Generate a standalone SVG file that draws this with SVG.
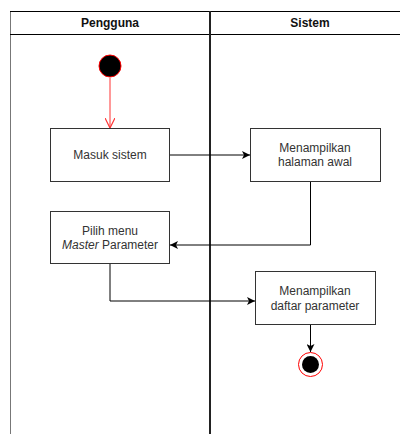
<svg xmlns="http://www.w3.org/2000/svg" width="400" height="434" viewBox="0 0 400 434">
  <style>
    .lane { fill: none; stroke: #000; stroke-width: 1; }
    .hdr { font-family: "Liberation Sans", Arial, sans-serif; font-size: 12px; font-weight: bold; fill: #111; text-anchor: middle; }
    .box { fill: #fff; stroke: #333; stroke-width: 1; }
    .lbl { font-family: "Liberation Sans", Arial, sans-serif; font-size: 12px; fill: #333; text-anchor: middle; }
    .edge { fill: none; stroke: #000; stroke-width: 1; }
  </style>
  <defs>
    <marker id="arrow" viewBox="0 0 10 10" refX="10" refY="5" markerWidth="8" markerHeight="8" markerUnits="userSpaceOnUse" orient="auto">
      <path d="M0,0 L10,5 L0,10 L2.5,5 Z" fill="#000"/>
    </marker>
    <marker id="open" viewBox="0 0 10 10" refX="10" refY="5" markerWidth="10" markerHeight="10" markerUnits="userSpaceOnUse" orient="auto">
      <path d="M0,0 L10,5 L0,10" fill="none" stroke="#f33" stroke-width="1.2"/>
    </marker>
  </defs>

  <!-- swimlane frame -->
  <g id="lanes">
    <line x1="10.5" y1="11" x2="10.5" y2="434" stroke="#777" stroke-width="1"/>
    <line x1="10" y1="11.5" x2="400" y2="11.5" class="lane"/>
    <line x1="10" y1="34.5" x2="400" y2="34.5" class="lane"/>
    <line x1="210" y1="11" x2="210" y2="434" stroke="#222" stroke-width="2"/>
    <text x="110" y="27" class="hdr">Pengguna</text>
    <text x="310" y="27" class="hdr">Sistem</text>
  </g>

  <!-- connectors -->
  <g id="connectors">
    <line x1="110" y1="78" x2="110" y2="128" stroke="#f33" stroke-width="1" marker-end="url(#open)"/>
    <path d="M170,155 H250" class="edge" marker-end="url(#arrow)"/>
    <path d="M310.5,182 V245 H170" class="edge" marker-end="url(#arrow)"/>
    <path d="M110,264 V301 H255" class="edge" marker-end="url(#arrow)"/>
    <path d="M310.5,325 V352" class="edge" marker-end="url(#arrow)"/>
  </g>

  <g id="start">
    <circle cx="110" cy="66" r="11" fill="#000" stroke="#f00" stroke-width="1"/>
  </g>

  <g id="masuk-sistem">
    <rect x="50.5" y="128.5" width="119" height="53" class="box"/>
    <text x="110" y="159" class="lbl">Masuk sistem</text>
  </g>

  <g id="halaman-awal">
    <rect x="250.5" y="128.5" width="130" height="53" class="box"/>
    <text x="315" y="152" class="lbl">Menampilkan</text>
    <text x="315" y="166" class="lbl">halaman awal</text>
  </g>

  <g id="pilih-menu">
    <rect x="50.5" y="211.5" width="119" height="52" class="box"/>
    <text x="110" y="235" class="lbl">Pilih menu</text>
    <text x="110" y="249" class="lbl"><tspan font-style="italic">Master</tspan> Parameter</text>
  </g>

  <g id="daftar-parameter">
    <rect x="255.5" y="271.5" width="120" height="53" class="box"/>
    <text x="315" y="295" class="lbl">Menampilkan</text>
    <text x="315" y="310" class="lbl">daftar parameter</text>
  </g>

  <g id="end">
    <circle cx="310.5" cy="364.5" r="12" fill="#fff" stroke="#f00" stroke-width="1"/>
    <circle cx="310.5" cy="364.5" r="8.5" fill="#000"/>
  </g>
</svg>
